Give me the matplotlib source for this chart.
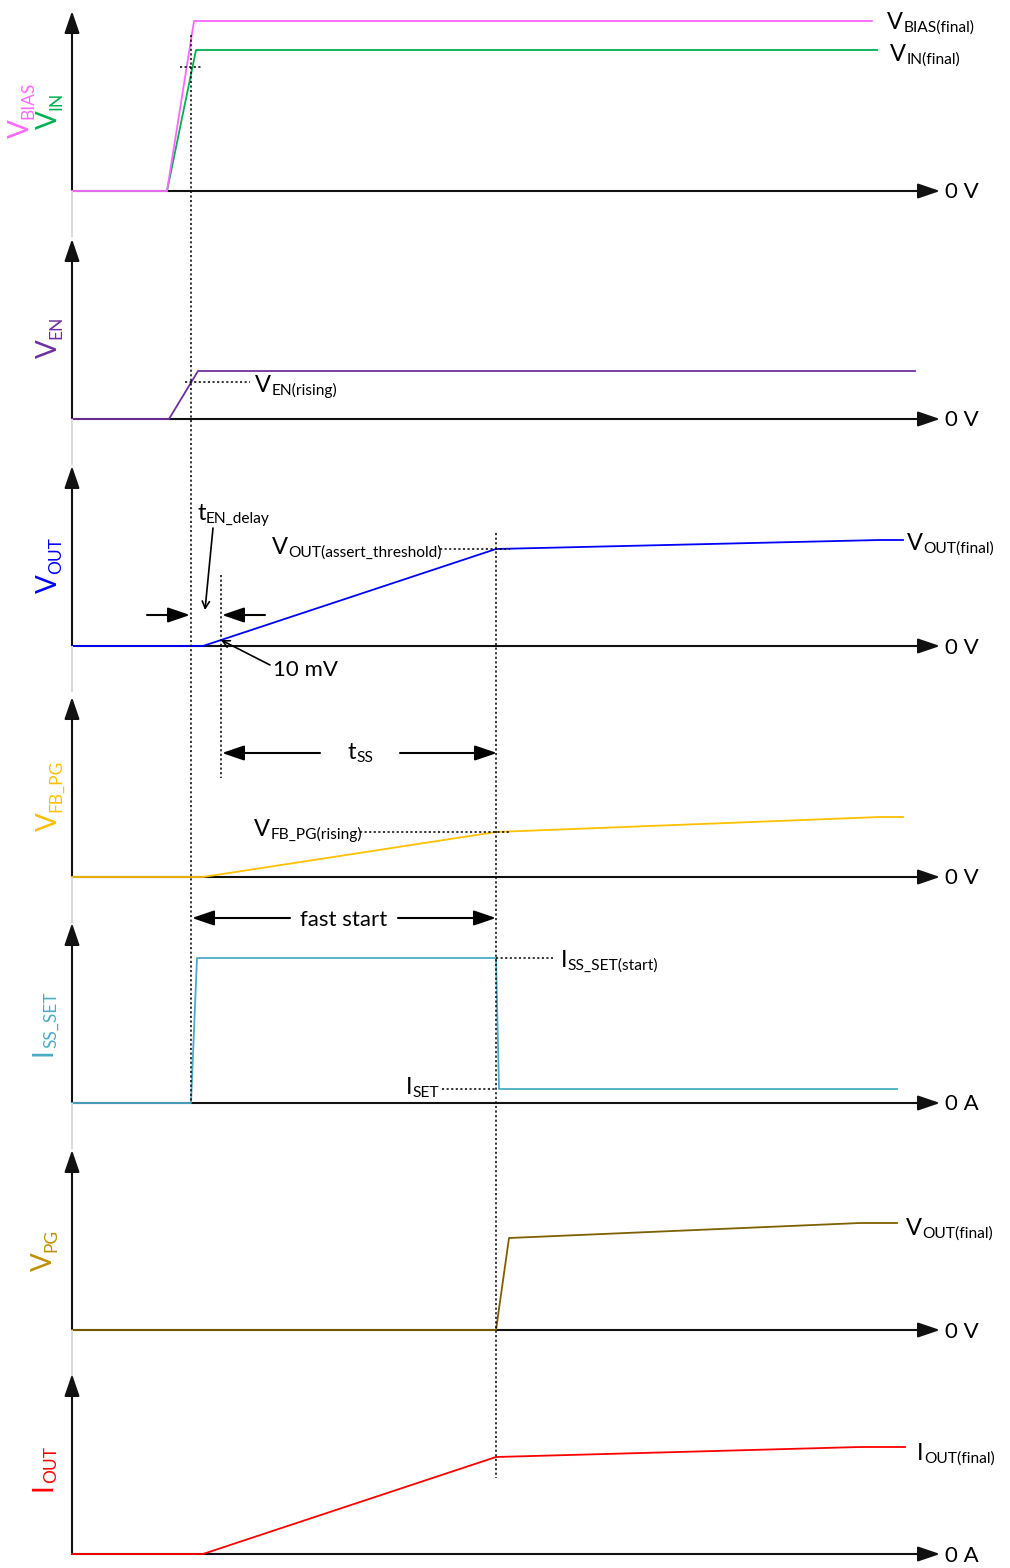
import matplotlib
matplotlib.use('Agg')
import matplotlib.pyplot as plt
from matplotlib.patches import ArrowStyle

plt.rcParams['font.family'] = ['Lato', 'DejaVu Sans']

W, H = 1010, 1568

# ---------------- data (time in arbitrary units, levels in arbitrary units) -------------
t_origin = 72
t_axis_end = 940
t_en = 191        # EN crosses V_EN(rising)
t_10mv = 221      # V_OUT reaches 10 mV
t_ss_end = 496    # end of soft start

vin_t = [72, 167, 196, 877]
vin_v = [0, 0, 141, 141]
vbias_t = [72, 167, 194, 872]
vbias_v = [0, 0, 170, 170]
vbias_th = 124

ven_t = [72, 169, 198, 915]
ven_v = [0, 0, 48, 48]
ven_th = 37

vout_t = [72, 203, 496, 880, 903]
vout_v = [0, 0, 97, 106, 106]

vfb_t = [72, 203, 496, 880, 903]
vfb_v = [0, 0, 45, 60, 60]

iss_t = [72, 191, 197, 496, 499, 897]
iss_v = [0, 0, 145, 145, 14, 14]

vpg_t = [72, 496, 509, 860, 897]
vpg_v = [0, 0, 92, 107, 107]

iout_t = [72, 203, 496, 860, 905]
iout_v = [0, 0, 97, 107, 107]

units = ['0 V', '0 V', '0 V', '0 V', '0 A', '0 V', '0 A']

# ---------------- colours ----------------
C_BIAS = '#FF66FF'
C_IN = '#00B050'
C_EN = '#7030A0'
C_OUT = '#0000FF'
C_FB = '#FFC000'
C_SS = '#4BACC6'
C_PG = '#7F6000'
C_PGL = '#BF9000'
C_IOUT = '#FF0000'
C_AX = '#111111'

# ---------------- layout ----------------
baselines = [191, 419, 646, 877, 1103, 1330, 1554]
AX_H = 180
BELOW, ABOVE = 20, 195

fig = plt.figure(figsize=(W / 100, H / 100), dpi=100)
ov = fig.add_axes([0, 0, 1, 1])
ov.set_xlim(0, W)
ov.set_ylim(H, 0)
ov.axis('off')
ov.set_zorder(10)
ov.patch.set_alpha(0)

head = ArrowStyle('-|>', head_length=13.5, head_width=4.6)
open_head = ArrowStyle('->', head_length=5, head_width=2.6)
DOT = (0, (1.4, 1.6))


def arrow(ax, tail, tip, style=head, lw=1.5, color='black'):
    ax.annotate('', xy=tip, xytext=tail,
                arrowprops=dict(arrowstyle=style, lw=lw, color=color,
                                shrinkA=0, shrinkB=0, mutation_scale=1),
                annotation_clip=False)


def hlab(ax, x, y, main, sub, size=17, subsize=11.2, color='black', dy=-1.5):
    t = ax.text(x, y, main, fontsize=size, color=color, ha='left', va='baseline')
    ax.annotate(sub, xy=(1, 0), xycoords=t, xytext=(0.3, dy),
                textcoords='offset points', fontsize=subsize, color=color,
                ha='left', va='bottom')
    return t


def vlab(ax, x, y, main, sub, size=20, subsize=12.5, color='black', dx=1.5):
    t = ax.text(x, y, main, fontsize=size, color=color, ha='left', va='bottom',
                rotation=90)
    ax.annotate(sub, xy=(1, 1), xycoords=t, xytext=(dx, 0.3),
                textcoords='offset points', fontsize=subsize, color=color,
                ha='right', va='bottom', rotation=90)
    return t


panels = []
for i, b in enumerate(baselines):
    ax = fig.add_axes([0, (H - b - BELOW) / H, 1, (BELOW + ABOVE) / H])
    ax.set_xlim(0, W)
    ax.set_ylim(-BELOW, ABOVE)
    ax.axis('off')
    arrow(ax, (t_origin, 0), (t_origin, AX_H), color=C_AX)
    arrow(ax, (t_origin, 0), (t_axis_end, 0), color=C_AX)
    ax.text(945, -1.5, units[i], fontsize=16, ha='left', va='center', color='black')
    panels.append(ax)

# light grey continuation of the y axis between panels
for b in baselines[:-1]:
    ov.plot([t_origin, t_origin], [b + 1, b + 45], color='#D9D9D9', lw=1.5, zorder=1)

LW = 1.3
p1, p2, p3, p4, p5, p6, p7 = panels
p1.plot(vin_t, vin_v, color=C_IN, lw=LW, zorder=4, clip_on=False)
p1.plot(vbias_t, vbias_v, color=C_BIAS, lw=LW, zorder=5, clip_on=False)
p2.plot(ven_t, ven_v, color=C_EN, lw=LW, zorder=4, clip_on=False)
p3.plot(vout_t, vout_v, color=C_OUT, lw=LW, zorder=4, clip_on=False)
p4.plot(vfb_t, vfb_v, color=C_FB, lw=LW, zorder=4, clip_on=False)
p5.plot(iss_t, iss_v, color=C_SS, lw=LW, zorder=4, clip_on=False)
p6.plot(vpg_t, vpg_v, color=C_PG, lw=LW, zorder=4, clip_on=False)
p7.plot(iout_t, iout_v, color=C_IOUT, lw=LW, zorder=4, clip_on=False)

# threshold dotted lines
dk = dict(color='black', lw=1.1, linestyle=DOT, zorder=6, clip_on=False)
p1.plot([180, 202], [vbias_th, vbias_th], **dk)
p2.plot([185, 250], [ven_th, ven_th], **dk)
p3.plot([440, 510], [vout_v[2], vout_v[2]], **dk)
p4.plot([360, 510], [vfb_v[2], vfb_v[2]], **dk)
p5.plot([t_ss_end, 553], [iss_v[3], iss_v[3]], **dk)
p5.plot([442, t_ss_end], [iss_v[4], iss_v[4]], **dk)

# cross-panel dotted verticals
ov.plot([t_en, t_en], [35, 1103], **dk)
ov.plot([t_10mv, t_10mv], [575, 778], **dk)
ov.plot([t_ss_end, t_ss_end], [533, 1478], **dk)

# left signal names
vlab(ov, 8, 138, 'V', 'BIAS', color=C_BIAS)
vlab(ov, 36, 129, 'V', 'IN', color=C_IN)
vlab(ov, 36, 358, 'V', 'EN', color=C_EN)
vlab(ov, 36, 593, 'V', 'OUT', color=C_OUT)
vlab(ov, 36, 831, 'V', 'FB_PG', color=C_FB)
vlab(ov, 31, 1056, 'I', 'SS_SET', color=C_SS)
vlab(ov, 31, 1271, 'V', 'PG', color=C_PGL)
vlab(ov, 31, 1491, 'I', 'OUT', color=C_IOUT)

# right / inline labels
hlab(ov, 887, 29, 'V', 'BIAS(final)')
hlab(ov, 890, 61, 'V', 'IN(final)')
hlab(ov, 255, 392, 'V', 'EN(rising)')
hlab(ov, 272, 554, 'V', 'OUT(assert_threshold)')
hlab(ov, 907, 550, 'V', 'OUT(final)')
hlab(ov, 197, 520, 't', 'EN_delay')
hlab(ov, 348, 759, 't', 'SS')
hlab(ov, 254, 836, 'V', 'FB_PG(rising)')
hlab(ov, 561, 967, 'I', 'SS_SET(start)')
hlab(ov, 406, 1094, 'I', 'SET')
hlab(ov, 906, 1235, 'V', 'OUT(final)')
hlab(ov, 917, 1460, 'I', 'OUT(final)')

ov.text(273, 676, '10 mV', fontsize=16, ha='left', va='baseline')
ov.text(344, 926, 'fast start', fontsize=16, ha='center', va='baseline')

# timing arrows
arrow(ov, (147, 615), (t_en - 1, 615))
arrow(ov, (265, 615), (t_10mv + 1, 615))
arrow(ov, (213, 528), (205, 610), style=open_head, lw=1.2)
arrow(ov, (270, 665), (221, 640), style=open_head, lw=1.2)
arrow(ov, (320, 753), (t_10mv + 1, 753))
arrow(ov, (400, 753), (t_ss_end + 1, 753))
arrow(ov, (290, 918), (t_en + 1, 918))
arrow(ov, (398, 918), (t_ss_end, 918))

fig.savefig('out.png', dpi=100)
